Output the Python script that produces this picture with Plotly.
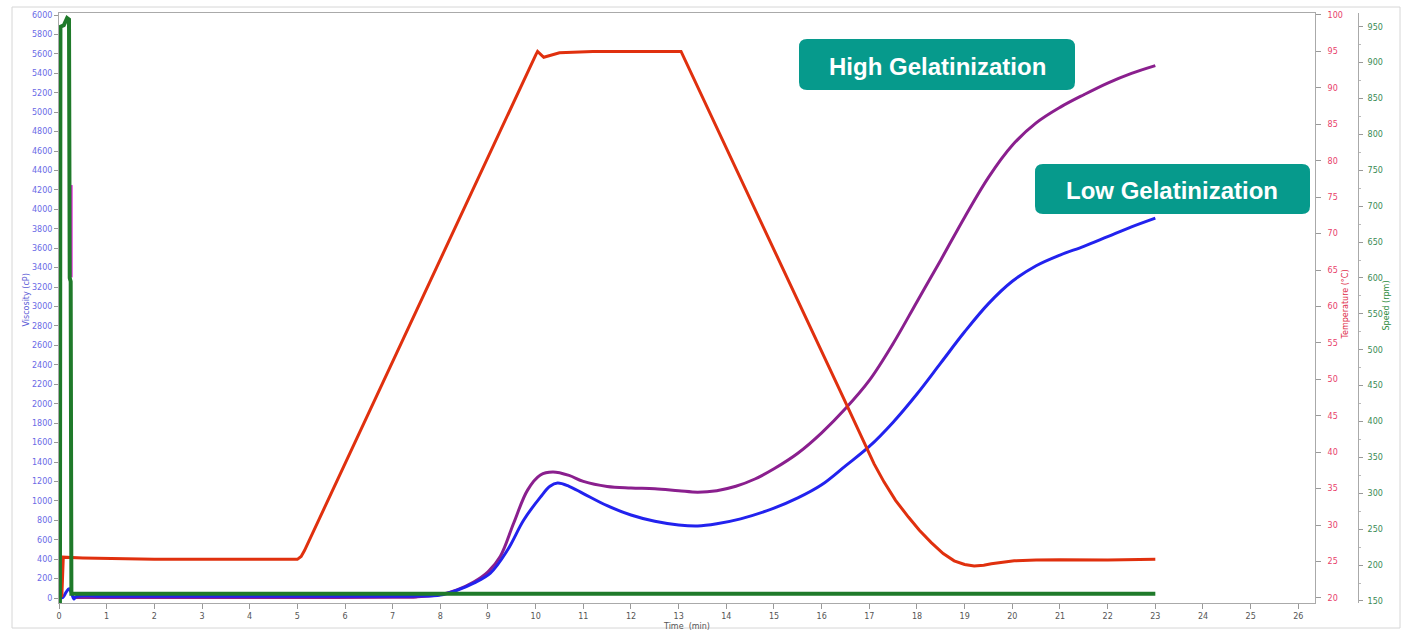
import plotly.graph_objects as go

# ---- Viscosity profiles (cP) vs time (min) ----
high_t = [0.30, 1.0, 3.0, 5.0, 7.0, 7.5, 8.0, 8.35, 8.7, 9.0, 9.26, 9.54, 9.83, 10.10, 10.36,
          10.7, 11.0, 11.5, 12.0, 12.5, 13.0, 13.4, 13.8, 14.2, 14.6, 15.0, 15.5, 16.0, 16.5,
          17.0, 17.5, 18.0, 18.5, 19.0, 19.5, 20.0, 20.5, 21.0, 21.5, 22.0, 22.5, 23.0]
high_visc = [5, 5, 5, 5, 8, 12, 35, 85, 165, 270, 430, 772, 1111, 1266, 1297,
             1262, 1200, 1148, 1133, 1125, 1105, 1090, 1105, 1150, 1225, 1330, 1490, 1700, 1950,
             2240, 2620, 3050, 3480, 3920, 4330, 4660, 4890, 5050, 5180, 5300, 5400, 5480]

low_t = [0.0, 0.08, 0.15, 0.21, 0.27, 0.31, 0.36, 1.0, 3.0, 5.0, 7.0, 7.5, 8.0, 8.35, 8.7,
         9.05, 9.41, 9.75, 10.10, 10.30, 10.46, 10.7, 11.0, 11.5, 12.0, 12.5, 13.0,
         13.4, 13.8, 14.3, 15.0, 15.5, 16.0, 16.5, 17.0, 17.5, 18.0, 18.5, 19.0, 19.5,
         20.0, 20.5, 21.0, 21.5, 22.0, 22.5, 23.0]
low_visc = [0, 5, 60, 95, 40, -10, 15, 18, 18, 18, 18, 20, 31, 80, 154,
            257, 494, 803, 1039, 1150, 1183, 1150, 1075, 950, 855, 790, 752,
            742, 765, 815, 925, 1030, 1165, 1360, 1560, 1810, 2100, 2420, 2740, 3030,
            3260, 3420, 3530, 3620, 3720, 3820, 3910]

# short start-up reading
startup_t = [0.255, 0.255]
startup_visc = [4250, 3300]

# ---- Temperature profile (°C) ----
temp_t = [0.0, 0.06, 0.09, 0.5, 2.0, 4.0, 5.0, 5.08, 5.15, 10.0, 10.04, 10.17, 10.5, 11.2,
          12.0, 13.0, 13.05, 16.41, 16.75, 16.93, 17.1, 17.31, 17.55, 17.82, 18.05, 18.30,
          18.55, 18.78, 19.0, 19.2, 19.4, 19.56, 19.8, 20.04, 20.5, 21.0, 22.0, 23.0]
temp_c = [20.0, 20.3, 25.6, 25.5, 25.3, 25.3, 25.3, 25.7, 26.5, 94.5, 95.0, 94.2, 94.8, 95.0,
          95.0, 95.0, 95.0, 48.1, 43.4, 40.8, 38.4, 35.9, 33.4, 31.1, 29.3, 27.6,
          26.1, 25.1, 24.6, 24.4, 24.5, 24.7, 24.9, 25.1, 25.2, 25.25, 25.2, 25.3]

# ---- Paddle speed (rpm) ----
speed_t = [0.0, 0.02, 0.03, 0.10, 0.17, 0.21, 0.225, 0.245, 0.26, 0.30, 5.0, 10.0, 15.0, 20.0, 23.0]
speed_rpm = [150, 150, 950, 952, 962, 960, 600, 595, 160, 160, 160, 160, 160, 160, 160]

time_ticks = list(range(0, 27))
visc_ticks = list(range(0, 6001, 200))
temp_ticks = list(range(20, 101, 5))
speed_ticks = list(range(150, 951, 50))

labels = ["High Gelatinization", "Low Gelatinization"]

fig = go.Figure()
fig.add_trace(go.Scatter(x=startup_t, y=startup_visc, mode="lines",
                         line=dict(color="#e020d8", width=3), yaxis="y", showlegend=False))
fig.add_trace(go.Scatter(x=high_t, y=high_visc, mode="lines", line_shape="spline",
                         line=dict(color="#8a1f8e", width=3), yaxis="y", showlegend=False))
fig.add_trace(go.Scatter(x=low_t, y=low_visc, mode="lines", line_shape="spline",
                         line=dict(color="#2222ee", width=3), yaxis="y", showlegend=False))
fig.add_trace(go.Scatter(x=temp_t, y=temp_c, mode="lines",
                         line=dict(color="#e0300e", width=3), yaxis="y2", showlegend=False))
fig.add_trace(go.Scatter(x=speed_t, y=speed_rpm, mode="lines",
                         line=dict(color="#1f7a2a", width=4), yaxis="y3", showlegend=False))

W, H = 1408, 632
L, R, T, B = 59, 48, 13, 29
pw, ph = W - L - R, H - T - B
plot_right = 1315


def px(x):
    return (x - L) / pw


def py(y):
    return (H - B - y) / ph


tick_font = dict(family="DejaVu Sans", size=8)

fig.update_layout(
    width=W, height=H,
    margin=dict(l=L, r=R, t=T, b=B),
    paper_bgcolor="white", plot_bgcolor="white",
    xaxis=dict(domain=[0, px(plot_right)], range=[0, 26.35], tickvals=time_ticks,
               ticks="outside", ticklen=5, tickcolor="#999", showgrid=False, zeroline=False,
               showline=True, linecolor="#aaa", mirror=True, automargin=False,
               tickfont=dict(tick_font, color="#555")),
    yaxis=dict(range=[-51, 6021], tickvals=visc_ticks, ticks="outside", ticklen=4,
               tickcolor="#999", showgrid=False, zeroline=False, showline=True,
               linecolor="#aaa", automargin=False,
               tickfont=dict(tick_font, color="#6a6ae6")),
    yaxis2=dict(range=[19.31, 100.27], tickvals=temp_ticks, overlaying="y", side="right",
                anchor="x", ticks="outside", ticklen=5, tickcolor="#999", showgrid=False,
                zeroline=False, showline=True, linecolor="#aaa", ticklabelstandoff=5,
                automargin=False, tickfont=dict(tick_font, color="#e8406a")),
    yaxis3=dict(range=[147.2, 969.1], tickvals=speed_ticks, overlaying="y", side="right",
                anchor="free", position=px(1358), ticks="outside", ticklen=4,
                tickcolor="#999", showgrid=False, zeroline=False, showline=True,
                linecolor="#aaa", minor=dict(dtick=25, ticklen=2, tickcolor="#bbb"),
                ticklabelstandoff=3, automargin=False,
                tickfont=dict(tick_font, color="#3a8a55")),
)


def rounded_box(x0, y0, x1, y1, r):
    # rounded rectangle given in pixel coordinates, converted to paper space
    rx, ry = r / pw, r / ph
    a0, a1 = px(x0), px(x1)
    b0, b1 = py(y1), py(y0)  # bottom, top
    return (f"M {a0 + rx},{b1} L {a1 - rx},{b1} Q {a1},{b1} {a1},{b1 - ry} "
            f"L {a1},{b0 + ry} Q {a1},{b0} {a1 - rx},{b0} L {a0 + rx},{b0} "
            f"Q {a0},{b0} {a0},{b0 + ry} L {a0},{b1 - ry} Q {a0},{b1} {a0 + rx},{b1} Z")


shapes = [
    dict(type="rect", xref="paper", yref="paper", x0=px(12), x1=px(1400), y0=py(628), y1=py(7),
         line=dict(color="#d6d6d6", width=1), fillcolor="rgba(0,0,0,0)", layer="below"),
    dict(type="path", xref="paper", yref="paper", path=rounded_box(799, 39, 1075, 90, 8),
         fillcolor="#069a8c", line=dict(width=0)),
    dict(type="path", xref="paper", yref="paper", path=rounded_box(1035, 164, 1310, 214, 8),
         fillcolor="#069a8c", line=dict(width=0)),
]

box_font = dict(family="Liberation Sans, Arial", size=24, color="white")
annotations = [
    dict(text=f"<b>{labels[0]}</b>", x=px(937), y=py(66), xref="paper", yref="paper",
         showarrow=False, font=box_font, xanchor="center", yanchor="middle"),
    dict(text=f"<b>{labels[1]}</b>", x=px(1172), y=py(190), xref="paper", yref="paper",
         showarrow=False, font=box_font, xanchor="center", yanchor="middle"),
    dict(text="Viscosity (cP)", x=px(19), y=py(300), xref="paper", yref="paper",
         showarrow=False, textangle=-90, font=dict(tick_font, color="#5b5bd6")),
    dict(text="Temperature (°C)", x=px(1351), y=py(305), xref="paper", yref="paper",
         showarrow=False, textangle=-90, font=dict(tick_font, color="#e0304a")),
    dict(text="Speed (rpm)", x=px(1392), y=py(305), xref="paper", yref="paper",
         showarrow=False, textangle=-90, font=dict(tick_font, color="#2a8a3a")),
    dict(text="Time  (min)", x=px(686), y=py(620), xref="paper", yref="paper",
         showarrow=False, xanchor="center", yanchor="top",
         font=dict(tick_font, color="#555")),
]
fig.update_layout(shapes=shapes, annotations=annotations)

fig.write_html("out.html")
